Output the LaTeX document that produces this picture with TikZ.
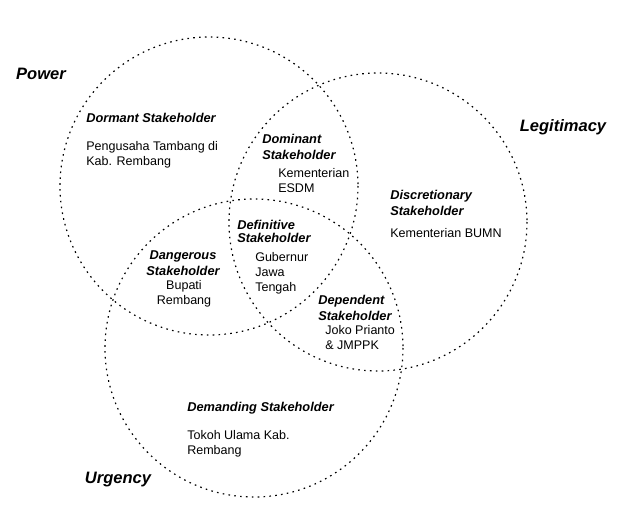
\documentclass[tikz,border=0pt]{standalone}
\usepackage{fontspec}
\setmainfont{Liberation Sans}
\usetikzlibrary{calc}
\tikzset{
  ring/.style={line width=0.9, dash pattern=on 1.2pt off 3.2pt},
  axis/.style={inner sep=0pt, font=\fontsize{12.4}{14}\selectfont\bfseries\itshape},
  kind/.style={inner sep=0pt, align=left, font=\fontsize{9.6}{12}\selectfont\bfseries\itshape},
  tight/.style={inner sep=0pt, align=left, font=\fontsize{9.6}{10}\selectfont\bfseries\itshape},
  who/.style={inner sep=0pt, align=left, font=\fontsize{9.4}{11.25}\selectfont}
}

\begin{document}
\begin{tikzpicture}[x=0.75pt,y=0.75pt,yscale=-1,xscale=1]
	\useasboundingbox (0,0) rectangle (626,514); %set diagram size 626 x 514

	% the three attributes
	\draw [ring]  (209,186) circle (149) ;
	\draw [ring]  (378,222) circle (149) ;
	\draw [ring]  (254,348) circle (149) ;

	\draw (41,74) node (power) [axis]  {Power};
	\draw (563,127) node (legitimacy) [axis]  {Legitimacy};
	\draw (118,480) node (urgency) [axis]  {Urgency};

	% power only
	\draw (86,113) node (dormant) [anchor=north west][kind]  {Dormant Stakeholder};
	\draw (86,141) node (dormantwho) [anchor=north west][who]  {Pengusaha Tambang di\\Kab. Rembang};
	% power and legitimacy
	\draw (262,134) node (dominant) [anchor=north west][kind]  {Dominant\\Stakeholder};
	\draw (278,168) node (dominantwho) [anchor=north west][who]  {Kementerian\\ESDM};
	% legitimacy only
	\draw (390,190) node (discretionary) [anchor=north west][kind]  {Discretionary\\Stakeholder};
	\draw (390,228) node (discretionarywho) [anchor=north west][who]  {Kementerian BUMN};
	% all three
	\draw (237,220) node (definitive) [anchor=north west][tight]  {Definitive\\Stakeholder};
	\draw (255,252) node (definitivewho) [anchor=north west][who]  {Gubernur\\Jawa\\Tengah};
	% power and urgency
	\draw (183,250) node (dangerous) [anchor=north][kind, align=center]  {Dangerous\\Stakeholder};
	\draw (184,280) node (dangerouswho) [anchor=north][who, align=center]  {Bupati\\Rembang};
	% legitimacy and urgency
	\draw (318,295) node (dependent) [anchor=north west][kind]  {Dependent\\Stakeholder};
	\draw (325,325) node (dependentwho) [anchor=north west][who]  {Joko Prianto\\\& JMPPK};
	% urgency only
	\draw (187,402) node (demanding) [anchor=north west][kind]  {Demanding Stakeholder};
	\draw (187,430) node (demandingwho) [anchor=north west][who]  {Tokoh Ulama Kab.\\Rembang};
\end{tikzpicture}
\end{document}
